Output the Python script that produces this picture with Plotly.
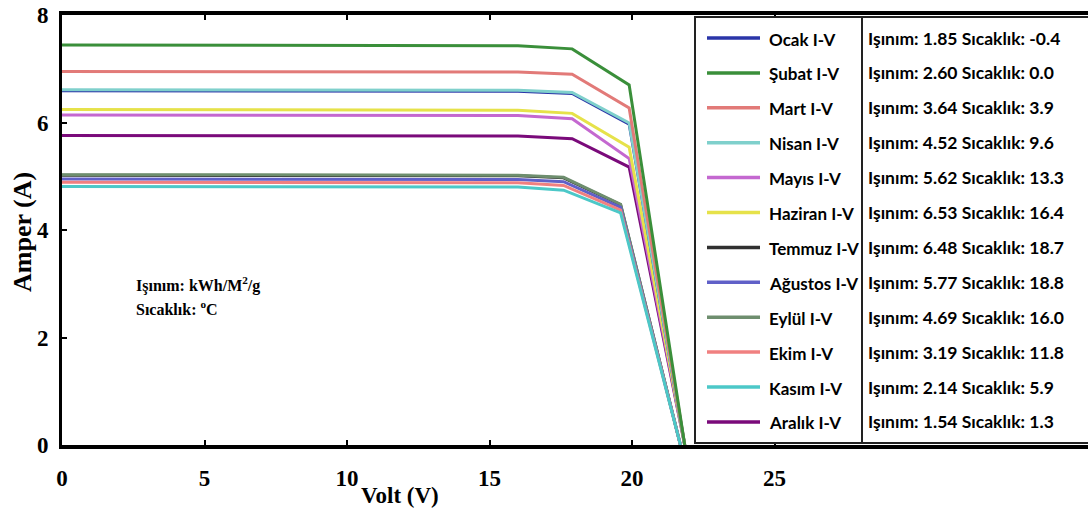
import plotly.graph_objects as go

# ---------------- data ----------------
months = ["Ocak", "Şubat", "Mart", "Nisan", "Mayıs", "Haziran",
          "Temmuz", "Ağustos", "Eylül", "Ekim", "Kasım", "Aralık"]
irradiance = ["1.85", "2.60", "3.64", "4.52", "5.62", "6.53",
              "6.48", "5.77", "4.69", "3.19", "2.14", "1.54"]
temperature = ["-0.4", "0.0", "3.9", "9.6", "13.3", "16.4",
               "18.7", "18.8", "16.0", "11.8", "5.9", "1.3"]
colors = ["#2a35a8", "#3a8f3a", "#e27a78", "#7fd0cc", "#c468d0", "#e6e24a",
          "#303030", "#6060c8", "#6e8e6e", "#f08080", "#4cc8c8", "#7a0a7a"]

volt_high = [0, 16.0, 17.9, 19.9, 21.85]
volt_low = [0, 16.0, 17.6, 19.6, 21.7]

current = {
    "Ocak":    [6.59, 6.58, 6.54, 5.97, 0],
    "Şubat":   [7.44, 7.43, 7.37, 6.70, 0],
    "Mart":    [6.95, 6.94, 6.90, 6.27, 0],
    "Nisan":   [6.61, 6.60, 6.56, 5.99, 0],
    "Mayıs":   [6.14, 6.13, 6.07, 5.33, 0],
    "Haziran": [6.24, 6.23, 6.17, 5.54, 0],
    "Temmuz":  [5.02, 5.01, 4.97, 4.47, 0],
    "Ağustos": [4.95, 4.94, 4.90, 4.42, 0],
    "Eylül":   [5.03, 5.02, 4.98, 4.48, 0],
    "Ekim":    [4.89, 4.88, 4.83, 4.37, 0],
    "Kasım":   [4.81, 4.80, 4.74, 4.32, 0],
    "Aralık":  [5.76, 5.75, 5.70, 5.17, 0],
}
low_group = ["Temmuz", "Ağustos", "Eylül", "Ekim", "Kasım"]

x_ticks = [0, 5, 10, 15, 20, 25]
y_ticks = [0, 2, 4, 6, 8]

# ---------------- figure ----------------
W, H = 1088, 517
ML, MR, MT, MB = 62, 0, 15, 72
PW, PH = W - ML - MR, H - MT - MB


def px_x(p):
    return (p - ML) / PW


def px_y(p):
    return (H - MB - p) / PH


serif = "Liberation Serif, Times New Roman, serif"
sans = "Lato"

fig = go.Figure()
draw_order = ["Temmuz", "Eylül", "Ağustos", "Ekim", "Kasım",
              "Aralık", "Mayıs", "Haziran", "Ocak", "Nisan", "Mart", "Şubat"]
for m in draw_order:
    i = months.index(m)
    fig.add_trace(go.Scatter(
        x=volt_low if m in low_group else volt_high,
        y=current[m], mode="lines",
        line=dict(color=colors[i], width=3),
        name=m + " I-V", showlegend=False, hoverinfo="skip"))

fig.update_layout(
    width=W, height=H,
    margin=dict(l=ML, r=MR, t=MT, b=MB),
    paper_bgcolor="white", plot_bgcolor="white",
    showlegend=False,
    xaxis=dict(range=[0, 36], tickvals=x_ticks, ticktext=[str(v) for v in x_ticks],
               ticks="inside", ticklen=5, tickwidth=1.5, tickcolor="black",
               showline=True, linewidth=4, linecolor="black", mirror="ticks",
               showgrid=False, zeroline=False, automargin=False,
               ticklabelstandoff=9,
               tickfont=dict(family=serif, size=23, color="black", weight="bold")),
    yaxis=dict(range=[0, 8], tickvals=y_ticks, ticktext=[str(v) for v in y_ticks],
               ticks="inside", ticklen=5, tickwidth=1.5, tickcolor="black",
               showline=True, linewidth=3, linecolor="black",
               showgrid=False, zeroline=False, automargin=False,
               ticklabelstandoff=6,
               tickfont=dict(family=serif, size=23, color="black", weight="bold")),
)

ann = []
ann.append(dict(text="Volt (V)", xref="paper", yref="paper",
                x=px_x(359), y=px_y(495), xanchor="left", yanchor="middle",
                showarrow=False,
                font=dict(family=serif, size=23, color="black", weight="bold")))
ann.append(dict(text="Amper (A)", xref="paper", yref="paper",
                x=px_x(22), y=px_y(232), xanchor="center", yanchor="middle",
                textangle=-90, showarrow=False,
                font=dict(family=serif, size=26, color="black", weight="bold")))
ann.append(dict(text="Işınım: kWh/M<sup>2</sup>/g", xref="paper", yref="paper",
                x=px_x(134), y=px_y(284), xanchor="left", yanchor="middle",
                showarrow=False,
                font=dict(family=serif, size=16, color="black", weight="bold")))
ann.append(dict(text="Sıcaklık: <sup>o</sup>C", xref="paper", yref="paper",
                x=px_x(134), y=px_y(308), xanchor="left", yanchor="middle",
                showarrow=False,
                font=dict(family=serif, size=16, color="black", weight="bold")))

shapes = []
# legend box
shapes.append(dict(type="rect", xref="paper", yref="paper",
                   x0=px_x(695), x1=px_x(1130), y0=px_y(443), y1=px_y(17),
                   fillcolor="white", line=dict(color="#222222", width=2),
                   layer="above"))
shapes.append(dict(type="line", xref="paper", yref="paper",
                   x0=px_x(862), x1=px_x(862), y0=px_y(443), y1=px_y(17),
                   line=dict(color="#222222", width=2), layer="above"))

row0, step = 38, 34.9
for i, m in enumerate(months):
    yc = row0 + i * step
    shapes.append(dict(type="line", xref="paper", yref="paper",
                       x0=px_x(707), x1=px_x(760), y0=px_y(yc), y1=px_y(yc),
                       line=dict(color=colors[i], width=3.5), layer="above"))
    ann.append(dict(text=m + " I-V", xref="paper", yref="paper",
                    x=px_x(767), y=px_y(yc + 1), xanchor="left", yanchor="middle",
                    showarrow=False,
                    font=dict(family=sans, size=17, color="black", weight="bold")))
    ann.append(dict(text="Işınım: " + irradiance[i] + " Sıcaklık: " + temperature[i],
                    xref="paper", yref="paper",
                    x=px_x(866), y=px_y(yc), xanchor="left", yanchor="middle",
                    showarrow=False,
                    font=dict(family=sans, size=17.5, color="black", weight="bold")))

fig.update_layout(annotations=ann, shapes=shapes)
fig.write_html("out.html",
               config={"displayModeBar": False},
               post_script="document.body.style.margin='0px';"
                           "document.body.style.overflow='hidden';")
